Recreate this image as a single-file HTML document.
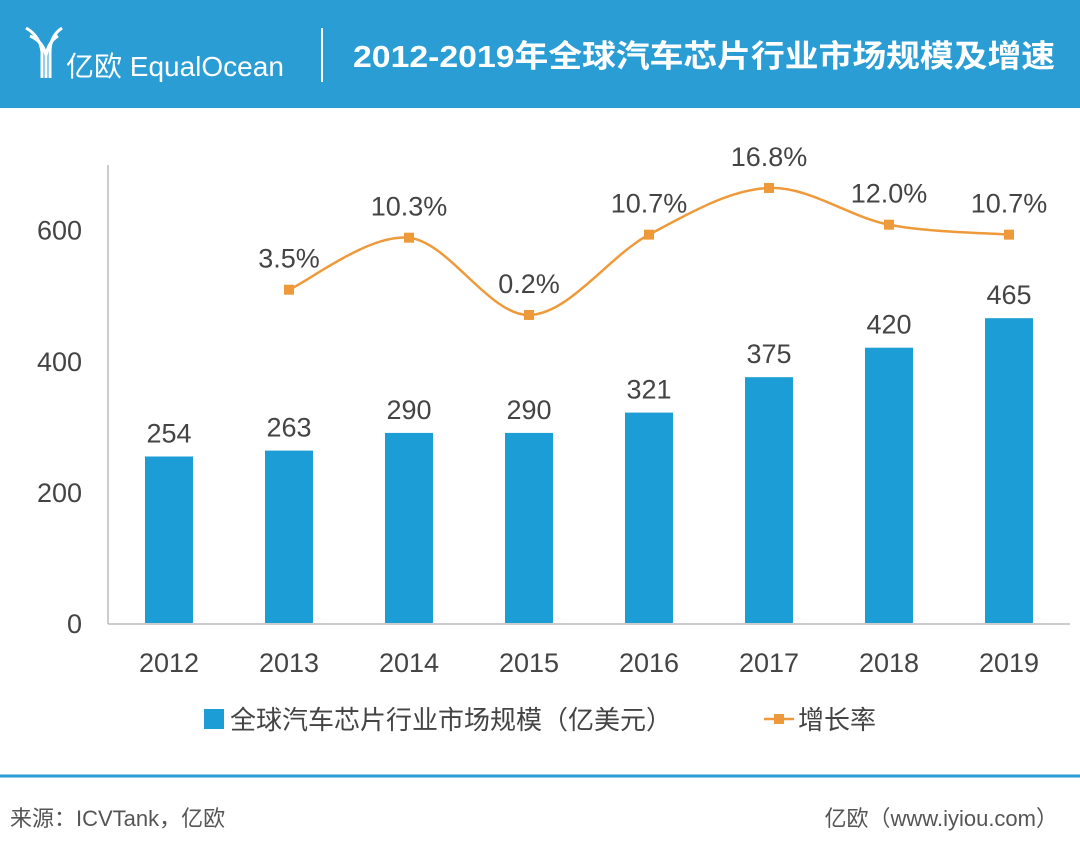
<!DOCTYPE html>
<html><head><meta charset="utf-8">
<style>
body{margin:0;width:1080px;height:853px;background:#fff;overflow:hidden;font-family:"Liberation Sans","Noto Sans CJK SC",sans-serif;}
</style></head>
<body>
<svg width="1080" height="853" xmlns="http://www.w3.org/2000/svg" font-family="Liberation Sans, Noto Sans CJK SC, sans-serif">
<g>
<rect x="0" y="0" width="1080" height="108" fill="#2a9dd4"/>
<g stroke="#fff" stroke-width="3" fill="none">
<path d="M26 28 Q40 36 42 52 L42 78 M62 28 Q50 36 50 52 L50 78 M46 56 L46 78"/>
<path d="M30 36 Q44 42 46 56 M58 36 Q48 42 46 56"/>
</g>
<text x="66" y="76" fill="#fff" font-size="28">亿欧 EqualOcean</text>
<line x1="322" y1="28" x2="322" y2="82" stroke="#fff" stroke-width="2"/>
<text x="1055" y="67" fill="#fff" font-size="31" font-weight="bold" text-anchor="end" textLength="702" lengthAdjust="spacingAndGlyphs">2012-2019年全球汽车芯片行业市场规模及增速</text>
</g>
<g id="chart"></g>
<line x1="0" y1="776" x2="1080" y2="776" stroke="#2a9dd4" stroke-width="3"/>
<text x="10" y="826" font-size="22" fill="#555">来源：ICVTank，亿欧</text>
<text x="1058" y="826" font-size="22" fill="#555" text-anchor="end">亿欧（www.iyiou.com）</text>
</svg>
<script>
const categories=["2012","2013","2014","2015","2016","2017","2018","2019"];
const marketSize=[254,263,290,290,321,375,420,465];
const growthRate=[null,3.5,10.3,0.2,10.7,16.8,12.0,10.7];
const growthLabels=["","3.5%","10.3%","0.2%","10.7%","16.8%","12.0%","10.7%"];
const yTicks=[0,200,400,600];
const NS="http://www.w3.org/2000/svg";
const g=document.getElementById('chart');
function el(t,a,p){const e=document.createElementNS(NS,t);for(const k in a)e.setAttribute(k,a[k]);(p||g).appendChild(e);return e;}
const yL=v=>623-v*0.6555;
const yR=v=>316.5-v*7.65;
const xC=i=>169+i*120;
const ax=el('line',{x1:108,y1:165,x2:108,y2:624,stroke:'#bbb','stroke-width':1.5});


const bx=el('line',{x1:108,y1:624,x2:1070,y2:624,stroke:'#bbb','stroke-width':1.5});


yTicks.forEach(v=>{const t=el('text',{x:82,y:yL(v)+10,'font-size':27,fill:'#444','text-anchor':'end'});t.textContent=v;

});
categories.forEach((c,i)=>{
const b=el('rect',{x:xC(i)-24,y:yL(marketSize[i]),width:48,height:623-yL(marketSize[i]),fill:'#1d9dd5'});


const l=el('text',{x:xC(i),y:yL(marketSize[i])-14,'font-size':27,fill:'#444','text-anchor':'middle'});l.textContent=marketSize[i];


const x=el('text',{x:xC(i),y:672,'font-size':27,fill:'#444','text-anchor':'middle'});x.textContent=c;


});
const pts=[];growthRate.forEach((v,i)=>{if(v!==null)pts.push([xC(i),yR(v),i]);});
let d='M'+pts[0][0]+' '+pts[0][1];
for(let k=0;k<pts.length-1;k++){const p0=pts[Math.max(k-1,0)],p1=pts[k],p2=pts[k+1],p3=pts[Math.min(k+2,pts.length-1)];
d+=` C${p1[0]+(p2[0]-p0[0])/6} ${p1[1]+(p2[1]-p0[1])/6} ${p2[0]-(p3[0]-p1[0])/6} ${p2[1]-(p3[1]-p1[1])/6} ${p2[0]} ${p2[1]}`;}
const line=el('path',{d:d,fill:'none',stroke:'#ee9a3a','stroke-width':2.5});


pts.forEach(p=>{const m=el('rect',{x:p[0]-5,y:p[1]-5,width:10,height:10,fill:'#ee9a3a'});


const t=el('text',{x:p[0],y:p[1]-22,'font-size':27,fill:'#444','text-anchor':'middle'});t.textContent=growthLabels[p[2]];

});
const lg=el('g',{});


const s1=el('rect',{x:204,y:709,width:20,height:20,fill:'#1d9dd5'},lg);


const t1=el('text',{x:230,y:729,'font-size':26,fill:'#444'},lg);t1.textContent='全球汽车芯片行业市场规模（亿美元）';


const s2=el('line',{x1:764,y1:719,x2:794,y2:719,stroke:'#ee9a3a','stroke-width':2.5},lg);


const s3=el('rect',{x:774,y:714,width:10,height:10,fill:'#ee9a3a'},lg);


const t2=el('text',{x:798,y:729,'font-size':26,fill:'#444'},lg);t2.textContent='增长率';


</script>
</body></html>
